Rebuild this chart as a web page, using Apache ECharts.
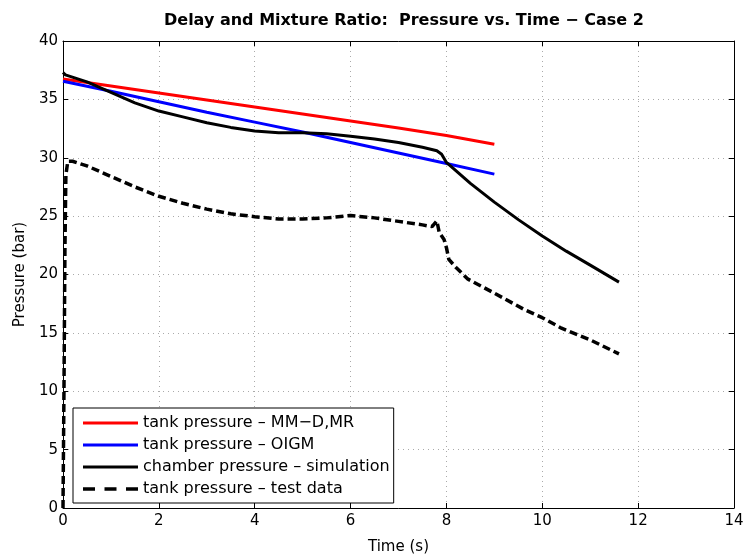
<!DOCTYPE html>
<html><head><meta charset="utf-8">
<script src="https://cdn.jsdelivr.net/npm/echarts@6/dist/echarts.min.js"></script>
<style>html,body{margin:0;padding:0;background:#fff}#c{width:748px;height:560px}</style>
</head><body><div id="c"></div>
<script>
const titleText = 'Delay and Mixture Ratio:  Pressure vs. Time \u2212 Case 2';
const xName = 'Time (s)';
const yName = 'Pressure (bar)';
const xTicks = [0,2,4,6,8,10,12,14];
const yTicks = [0,5,10,15,20,25,30,35,40];
const seriesNames = ['tank pressure \u2013 MM\u2212D,MR','tank pressure \u2013 OIGM','chamber pressure \u2013 simulation','tank pressure \u2013 test data'];

const redTank = [[0,36.75],[1,36.15],[2,35.55],[3,34.95],[4,34.35],[5,33.75],[6,33.15],[7,32.55],[8,31.9],[9,31.15]];
const blueTank = [[0,36.55],[1,35.7],[2,34.8],[3,33.9],[4,33.05],[5,32.2],[6,31.3],[7,30.4],[8,29.5],[9,28.6]];
const chamber = [[0,37.3],[0.05,37.1],[0.5,36.5],[1,35.6],[1.5,34.7],[2,34.0],[2.5,33.5],[3,33.0],[3.5,32.6],[4,32.3],[4.5,32.15],[5,32.15],[5.5,32.05],[6,31.85],[6.5,31.6],[7,31.3],[7.5,30.9],[7.8,30.6],[7.9,30.3],[8,29.6],[8.25,28.7],[8.5,27.8],[9,26.2],[9.5,24.7],[10,23.3],[10.5,22.0],[11,20.8],[11.6,19.35]];
const testData = [[0,0],[0.02,10],[0.04,22],[0.06,28.5],[0.1,29.7],[0.2,29.7],[0.5,29.3],[1,28.4],[1.5,27.5],[2,26.7],[2.5,26.1],[3,25.6],[3.5,25.2],[4,24.95],[4.5,24.75],[5,24.75],[5.5,24.85],[6,25.05],[6.5,24.85],[7,24.55],[7.5,24.25],[7.7,24.1],[7.8,24.6],[7.85,23.6],[7.95,23.0],[8.0,22.3],[8.05,21.3],[8.2,20.6],[8.45,19.6],[9,18.4],[9.6,17.05],[10,16.3],[10.4,15.4],[11,14.4],[11.6,13.2]];

const font = 'DejaVu Sans, Verdana, sans-serif';
const solidIcon = 'path://M0,0H55V3H0Z';
const dashIcon = 'path://M0,0H12V3.5H0Z M21.5,0H33.5V3.5H21.5Z M43,0H55V3.5H43Z';
const chart = echarts.init(document.getElementById('c'));
const grid = {left:63, right:14, top:41, bottom:50};
const xBase = {type:'value', min:xTicks[0], max:xTicks[xTicks.length-1], interval:2};
const yBase = {type:'value', min:yTicks[0], max:yTicks[yTicks.length-1], interval:5};
const axLine = {show:true, onZero:false, lineStyle:{color:'#000', width:1}};
const tick = {show:true, inside:true, length:5, lineStyle:{color:'#000'}};
const grd = {show:true, lineStyle:{color:'#aaa', type:[1,4], width:1}};
function mk(name, data, color, type, width){
  return {name, type:'line', data, showSymbol:false, symbol:'none', smooth:false,
    lineStyle:{color, width, type}, itemStyle:{color}, xAxisIndex:0, yAxisIndex:0, animation:false};
}
chart.setOption({
  animation:false,
  title:{text:titleText, left:159, top:8, textStyle:{fontFamily:font, fontSize:16, fontWeight:'bold', color:'#000'}},
  grid,
  xAxis:[
    Object.assign({}, xBase, {position:'bottom', name:xName, nameLocation:'middle', nameGap:32,
      nameTextStyle:{fontFamily:font, fontSize:15, color:'#000'},
      axisLine:axLine, axisTick:tick, splitLine:grd,
      axisLabel:{fontFamily:font, fontSize:15, color:'#000', margin:6}}),
    Object.assign({}, xBase, {position:'top', axisLine:axLine, axisTick:tick, splitLine:{show:false}, axisLabel:{show:false}})
  ],
  yAxis:[
    Object.assign({}, yBase, {position:'left', name:yName, nameLocation:'middle', nameGap:35,
      nameTextStyle:{fontFamily:font, fontSize:15, color:'#000'},
      axisLine:axLine, axisTick:tick, splitLine:grd,
      axisLabel:{fontFamily:font, fontSize:15, color:'#000', margin:5}}),
    Object.assign({}, yBase, {position:'right', axisLine:axLine, axisTick:tick, splitLine:{show:false}, axisLabel:{show:false}})
  ],
  legend:{orient:'vertical', left:73, top:408, padding:[7,4,6,10], itemGap:6, itemWidth:55, itemHeight:14,
    symbolKeepAspect:true,
    backgroundColor:'#fff', borderColor:'#000', borderWidth:1, borderRadius:0,
    textStyle:{fontFamily:font, fontSize:16, lineHeight:16, color:'#000'},
    data:[
      {name:seriesNames[0], icon:solidIcon},
      {name:seriesNames[1], icon:solidIcon},
      {name:seriesNames[2], icon:solidIcon},
      {name:seriesNames[3], icon:dashIcon}
    ]},
  series:[
    mk(seriesNames[0], redTank, '#ff0000', 'solid', 3),
    mk(seriesNames[1], blueTank, '#0000ff', 'solid', 3),
    mk(seriesNames[2], chamber, '#000000', 'solid', 3),
    mk(seriesNames[3], testData, '#000000', [8,4], 3.5)
  ]
});
</script></body></html>
